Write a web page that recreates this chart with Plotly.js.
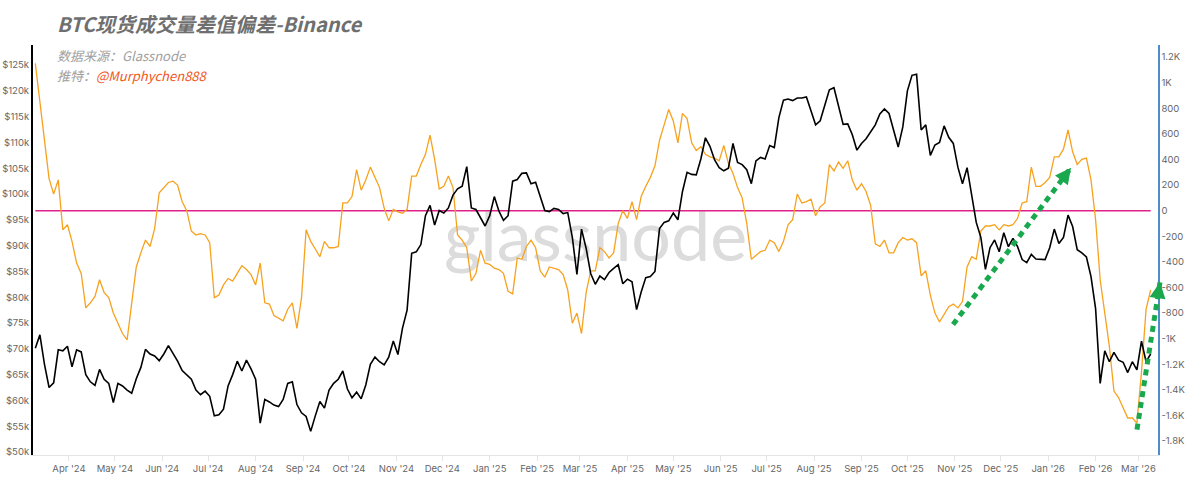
<!DOCTYPE html>
<html>
<head>
<meta charset="utf-8">
<script src="https://cdn.plot.ly/plotly-3.0.1.min.js"></script>
<style>
  html, body { margin: 0; padding: 0; background: #ffffff; }
  #chart { width: 1200px; height: 492px; }
</style>
</head>
<body>
<div id="chart"></div>
<script>
// ---------------- DATA ----------------
// Daily series sampled every 3 days, starting 2024-03-10
const startDate = '2024-03-10';
const stepDays = 3;

// BTC spot volume delta deviation (Binance) - right axis
const spreadValues = [
  1150, 840, 570, 250, 130, 240, -150, -110, -240, -410,
  -490, -760, -720, -670, -540, -640, -680, -800, -880, -960,
  -1010, -720, -440, -330, -230, -280, -140, 140, 180, 220,
  230, 200, 70, 0, -160, -190, -180, -190, -250, -680,
  -660, -580, -530, -550, -490, -430, -460, -500, -580, -410,
  -720, -730, -820, -840, -860, -770, -720, -920, -680, -150,
  -240, -300, -360, -240, -290, -290, -280, 60, 60, 110,
  320, 160, 240, 340, 260, 180, 20, -80, 10, -10,
  -20, 10, 270, 270, 360, 440, 590, 400, 170, 190,
  270, 180, -190, -230, -290, -550, -490, -310, -410, -420,
  -450, -460, -490, -630, -650, -370, -380, -280, -230, -290,
  -470, -520, -440, -450, -460, -500, -620, -880, -800, -960,
  -640, -470, -470, -290, -320, -370, -330, -100, 0, -60,
  70, -70, 110, 190, 260, 350, 550, 670, 790, 700,
  530, 760, 720, 530, 470, 500, 440, 420, 410, 390,
  510, 370, 290, 180, 100, -100, -380, -350, -320, -310,
  -230, -250, -320, -240, -110, -70, 130, 60, 70, 90,
  -40, 30, 60, 360, 310, 380, 330, 390, 240, 160,
  210, 150, 40, -260, -280, -230, -330, -330, -250, -210,
  -230, -220, -250, -510, -470, -660, -800, -870, -810, -750,
  -730, -760, -710, -440, -360, -380, -160, -120, -120, -110,
  -150, -110, -120, -110, -60, 60, 70, 340, 190, 190,
  220, 260, 420, 420, 480, 630, 460, 360, 400, 410,
  240, -70, -540, -800, -1060, -1410, -1460, -1540, -1620, -1620,
  -1660, -1260, -770, -620
];

// BTC price in thousands of USD - left axis
const btcPriceK = [
  70.1, 72.7, 67.0, 62.5, 63.4, 69.8, 69.6, 70.5, 66.5, 69.8,
  69.4, 65.0, 63.6, 62.9, 66.0, 64.1, 63.3, 59.6, 63.3, 62.8,
  62.0, 61.4, 64.2, 66.4, 69.9, 69.0, 68.6, 67.7, 69.0, 70.6,
  69.1, 67.6, 65.8, 65.0, 64.1, 62.0, 61.1, 61.8, 60.8, 57.0,
  57.2, 58.3, 62.8, 65.0, 67.6, 65.7, 67.8, 66.1, 64.1, 55.6,
  60.2, 59.7, 59.1, 58.8, 60.2, 63.3, 63.6, 59.2, 57.6, 56.9,
  54.0, 57.0, 59.8, 58.5, 62.0, 63.3, 64.1, 65.7, 62.2, 60.5,
  61.6, 60.3, 63.0, 67.0, 68.4, 67.5, 66.9, 68.4, 71.5, 68.9,
  74.0, 77.5, 88.5, 88.8, 90.2, 95.8, 97.8, 94.0, 96.8, 96.3,
  97.3, 99.8, 101.0, 101.5, 105.3, 97.3, 97.0, 95.4, 93.8, 95.8,
  99.5, 96.7, 94.9, 95.8, 102.5, 102.8, 104.0, 104.1, 102.0, 102.3,
  99.5, 96.8, 96.6, 97.2, 97.0, 96.2, 96.4, 91.6, 84.4, 93.2,
  89.5, 84.6, 82.5, 84.1, 83.4, 84.8, 85.6, 86.3, 82.6, 83.5,
  83.0, 77.6, 81.0, 83.8, 84.0, 85.0, 93.3, 94.5, 94.8, 96.3,
  95.0, 100.5, 104.2, 103.8, 103.7, 106.8, 110.9, 109.2, 106.6, 105.1,
  104.5, 105.0, 109.8, 106.1, 105.7, 104.7, 102.0, 106.4, 107.1, 106.8,
  109.4, 109.0, 114.8, 118.2, 118.4, 118.1, 118.6, 118.6, 118.8, 116.2,
  113.4, 114.2, 117.0, 120.2, 120.6, 116.8, 113.5, 113.6, 111.5, 108.5,
  109.8, 110.7, 112.0, 113.4, 115.5, 116.5, 115.6, 112.5, 109.1, 113.0,
  120.0, 123.0, 123.2, 112.4, 113.4, 107.5, 109.5, 110.0, 113.2, 111.0,
  109.8, 105.2, 102.0, 105.1, 100.2, 94.5, 91.6, 85.4, 89.6, 91.1,
  88.8, 92.5, 89.8, 91.4, 89.8, 87.3, 86.7, 88.3, 87.4, 87.3,
  87.3, 89.6, 93.2, 90.4, 91.6, 95.9, 93.7, 89.2, 88.6, 87.8,
  84.0, 77.8, 63.3, 69.6, 67.5, 69.3, 67.8, 67.4, 65.4, 67.5,
  65.9, 71.5, 67.5, 69.0
];

// Axis ticks
const priceTickVals = [50, 55, 60, 65, 70, 75, 80, 85, 90, 95, 100, 105, 110, 115, 120, 125];
const priceTickText = ['$50k', '$55k', '$60k', '$65k', '$70k', '$75k', '$80k', '$85k', '$90k', '$95k', '$100k', '$105k', '$110k', '$115k', '$120k', '$125k'];
const spreadTickVals = [-1800, -1600, -1400, -1200, -1000, -800, -600, -400, -200, 0, 200, 400, 600, 800, 1000, 1200];
const spreadTickText = ['-1.8K', '-1.6K', '-1.4K', '-1.2K', '-1K', '-800', '-600', '-400', '-200', '0', '200', '400', '600', '800', '1K', '1.2K'];

// Text
const chartTitle = 'BTC现货成交量差值偏差-Binance';
const sourceLabel = '数据来源：';
const sourceName = 'Glassnode';
const twitterLabel = '推特：';
const twitterHandle = '@Murphychen888';
const watermark = 'glassnode';

// Trend arrows (annotations): [x0 paper, y0 value, x1 paper, y1 value]
const trendArrows = [
  { x0: 0.8178, y0: -890, x1: 0.9227, y1: 336 },
  { x0: 0.9813, y0: -1711, x1: 1.0018, y1: -560 }
];

// ---------------- BUILD ----------------
function buildDates(start, step, n) {
  const base = new Date(start + 'T00:00:00Z').getTime();
  const out = [];
  for (let i = 0; i < n; i++) {
    const d = new Date(base + i * step * 86400000);
    out.push(d.toISOString().slice(0, 10));
  }
  return out;
}
const dates = buildDates(startDate, stepDays, spreadValues.length);

const tickFont = { family: 'Inter, "Liberation Sans", sans-serif', size: 9.5, color: '#666666' };

const traces = [
  {
    x: dates, y: spreadValues, type: 'scatter', mode: 'lines', yaxis: 'y',
    line: { color: '#f7a21f', width: 1.3 }, name: 'Spread', hoverinfo: 'skip'
  },
  {
    x: dates, y: btcPriceK, type: 'scatter', mode: 'lines', yaxis: 'y2',
    line: { color: '#000000', width: 1.6 }, name: 'Price', hoverinfo: 'skip'
  }
];

const watermarkSvg = "<svg xmlns='http://www.w3.org/2000/svg' width='320' height='90'>" +
  "<text x='160' y='66' text-anchor='middle' font-family='Lato, Inter, sans-serif' font-size='70' fill='#dcdcdc'>" +
  watermark + "</text></svg>";

const shapes = [
  {
    type: 'line', xref: 'x', yref: 'y', x0: dates[0], x1: dates[dates.length - 1], y0: 0, y1: 0,
    line: { color: '#e0218a', width: 1.5 }, layer: 'below'
  }
];
const annotations = [
  {
    xref: 'paper', yref: 'paper', x: 0.0196, y: 0.9756, xanchor: 'left', yanchor: 'middle',
    showarrow: false, align: 'left',
    text: '<i>' + sourceLabel + sourceName + '</i>',
    font: { family: '"Noto Sans CJK SC", sans-serif', size: 13, color: '#a0a0a0' }
  },
  {
    xref: 'paper', yref: 'paper', x: 0.0196, y: 0.9268, xanchor: 'left', yanchor: 'middle',
    showarrow: false, align: 'left',
    text: '<i>' + twitterLabel + '<span style="color:#f0561c">' + twitterHandle + '</span></i>',
    font: { family: '"Noto Sans CJK SC", sans-serif', size: 13, color: '#a0a0a0' }
  }
];
trendArrows.forEach(a => {
  shapes.push({
    type: 'line', xref: 'paper', yref: 'y', x0: a.x0, y0: a.y0, x1: a.x1, y1: a.y1,
    line: { color: '#1aa84f', width: 5, dash: '6px,5px' }, layer: 'above'
  });
});

const layout = {
  width: 1200, height: 492,
  paper_bgcolor: '#ffffff', plot_bgcolor: 'rgba(0,0,0,0)',
  margin: { l: 33, r: 42, t: 45, b: 37, pad: 0 },
  showlegend: false,
  title: {
    text: '<b><i>' + chartTitle + '</i></b>',
    xref: 'container', yref: 'container',
    x: 57 / 1200, xanchor: 'left', y: 1 - 25 / 492, yanchor: 'middle',
    font: { family: '"Noto Sans CJK SC", sans-serif', size: 20, color: '#6f6f6f' }
  },
  xaxis: {
    type: 'date',
    range: ['2024-03-08 12:00', '2026-03-13 19:00'],
    tick0: '2024-04-01', dtick: 'M1', tickformat: "%b '%y",
    showgrid: false, zeroline: false,
    showline: true, linecolor: '#e4e4e4', linewidth: 1,
    ticks: 'outside', ticklen: 5, tickcolor: '#e4e4e4',
    tickfont: tickFont
  },
  yaxis: {
    side: 'right',
    range: [-1909, 1294],
    tickvals: spreadTickVals, ticktext: spreadTickText,
    showgrid: false, zeroline: false,
    showline: true, linecolor: '#4f8cc9', linewidth: 1.5,
    ticks: '', tickfont: tickFont
  },
  yaxis2: {
    side: 'left', overlaying: 'y',
    range: [49.42, 128.88],
    tickvals: priceTickVals, ticktext: priceTickText,
    showgrid: false, zeroline: false,
    showline: true, linecolor: '#000000', linewidth: 2,
    ticks: '', tickfont: tickFont
  },
  images: [{
    source: 'data:image/svg+xml;charset=utf-8,' + encodeURIComponent(watermarkSvg),
    xref: 'paper', yref: 'paper', x: 0.5, y: 0.524, xanchor: 'center', yanchor: 'middle',
    sizex: 320 / 1125, sizey: 90 / 410, sizing: 'stretch', layer: 'below', opacity: 1
  }],
  shapes: shapes,
  annotations: annotations.concat(trendArrows.map(a => {
    const dxPx = (a.x1 - a.x0) * 1125;
    const dyPx = (a.y1 - a.y0) * (410 / 3203);
    const len = Math.sqrt(dxPx * dxPx + dyPx * dyPx);
    return {
      xref: 'paper', yref: 'y', x: a.x1, y: a.y1,
      ax: -dxPx / len * 16, ay: dyPx / len * 16,
      showarrow: true, arrowhead: 2, arrowsize: 1.6, arrowwidth: 2,
      arrowcolor: '#1aa84f', text: ''
    };
  }))
};

Plotly.newPlot('chart', traces, layout, { displayModeBar: false, staticPlot: true });
</script>
</body>
</html>
